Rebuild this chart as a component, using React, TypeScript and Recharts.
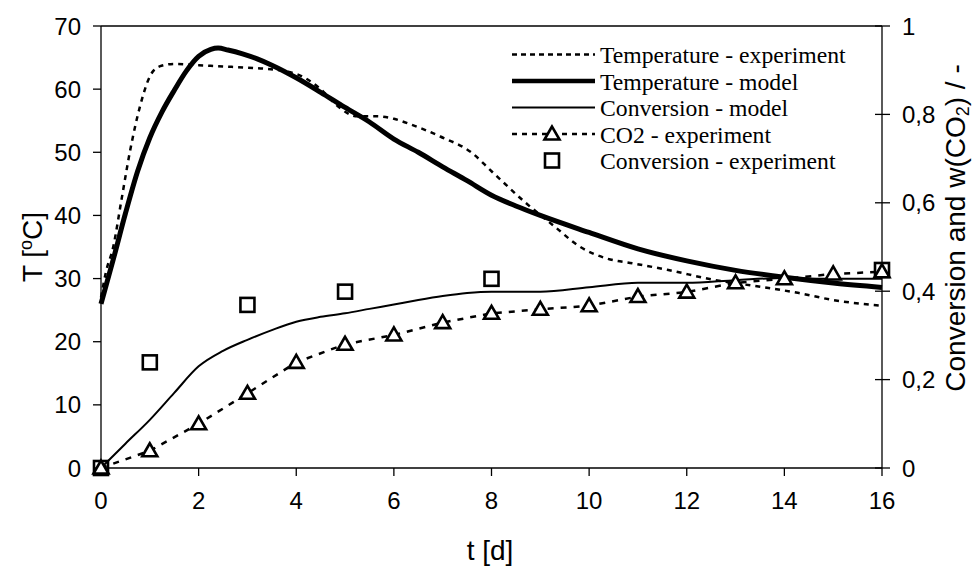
import { ComposedChart, Line, Scatter, XAxis, YAxis, ReferenceLine } from 'recharts';

// temperature model (thick line), t in days, T in °C
const tempModelT = [0, 0.25, 0.5, 0.75, 1, 1.25, 1.5, 1.75, 2, 2.25, 2.4, 2.6, 2.9, 3.2, 3.5, 4, 4.5, 5, 5.5, 6, 6.5, 7, 7.5, 8, 8.5, 9, 10, 11, 12, 13, 14, 15, 16];
const tempModelV = [26, 33, 40.3, 47, 52.3, 56.4, 59.8, 62.9, 65.2, 66.3, 66.5, 66.2, 65.6, 64.8, 63.8, 61.8, 59.5, 57.1, 54.8, 52.1, 50, 47.7, 45.5, 43.2, 41.5, 40, 37.3, 34.7, 32.8, 31.3, 30.2, 29.3, 28.6];

// temperature experiment (dashed)
const tempExpT = [0, 0.1, 0.25, 0.42, 0.6, 0.8, 1, 1.2, 1.5, 2, 2.5, 3, 3.4, 4, 4.5, 4.85, 5.25, 5.65, 6, 6.35, 6.95, 7.6, 8, 8.7, 9.3, 9.8, 10.35, 10.9, 11.6, 12.55, 13.6, 14.3, 15, 16];
const tempExpV = [27, 31, 35, 42.5, 50.4, 57.3, 62, 63.6, 64, 63.8, 63.6, 63.4, 63.2, 62.4, 60, 57.3, 55.7, 55.7, 55.3, 54.4, 52.5, 49.9, 47, 42, 38.2, 35.1, 33.2, 32.4, 31.4, 29.8, 28.6, 27.7, 26.6, 25.7];

// conversion model (thin line)
const convModelT = [0, 0.5, 1, 1.5, 2, 2.5, 3, 3.5, 4, 4.5, 5, 5.5, 6, 6.5, 7, 7.5, 8, 9, 10, 11, 12, 13, 14, 15, 16];
const convModelV = [0, 0.055, 0.109, 0.17, 0.23, 0.265, 0.29, 0.312, 0.331, 0.342, 0.35, 0.36, 0.37, 0.38, 0.389, 0.396, 0.399, 0.399, 0.409, 0.419, 0.419, 0.425, 0.43, 0.428, 0.428];

// CO2 experiment (triangles)
const co2T = [0, 1, 2, 3, 4, 5, 6, 7, 8, 9, 10, 11, 12, 13, 14, 15, 16];
const co2V = [0, 0.039, 0.1, 0.169, 0.239, 0.28, 0.301, 0.329, 0.35, 0.359, 0.367, 0.388, 0.398, 0.419, 0.428, 0.439, 0.444];

// conversion experiment (squares)
const convExpT = [0, 1, 3, 5, 8, 16];
const convExpV = [0, 0.239, 0.369, 0.399, 0.428, 0.448];

const xTicks = [0, 2, 4, 6, 8, 10, 12, 14, 16];
const leftTicks = [0, 10, 20, 30, 40, 50, 60, 70];
const rightTicks = [0, 0.2, 0.4, 0.6, 0.8, 1];

const legendItems = [
  'Temperature - experiment',
  'Temperature - model',
  'Conversion - model',
  'CO2 - experiment',
  'Conversion - experiment',
];

const zip = (ts: number[], vs: number[]) => ts.map((t, i) => ({ t, v: vs[i] }));

const sans = '"Liberation Sans", Arial, sans-serif';
const serif = '"Liberation Serif", "Times New Roman", serif';
const tickStyle = { fontFamily: sans, fontSize: 24, fill: '#000' };

const triPath = (cx: number, cy: number) =>
  `M${cx},${cy - 7.5} L${cx - 7.5},${cy + 5.5} L${cx + 7.5},${cy + 5.5} Z`;

const Triangle = (p: any) => {
  if (p.cx == null || p.cy == null) return <g key={p.index} />;
  return (
    <path key={p.index} d={triPath(p.cx, p.cy)} fill="#fff" stroke="#000" strokeWidth={2.6} />
  );
};

const Square = (p: any) => (
  <rect x={p.cx - 7} y={p.cy - 7} width={14} height={14} fill="none" stroke="#000" strokeWidth={2.6} />
);

const RightTick = (p: any) => {
  const { x, y, payload } = p;
  const ax = x - 20;
  return (
    <g>
      <line x1={ax - 7} x2={ax + 8} y1={y} y2={y} stroke="#000" strokeWidth={1.3} />
      <text x={x} y={y} dy="0.355em" textAnchor="start" {...tickStyle}>
        {String(payload.value).replace('.', ',')}
      </text>
    </g>
  );
};

const LegendBox = () => {
  const rowY = [54.5, 81, 107.5, 134, 160.5];
  return (
    <svg width={980} height={566} style={{ position: 'absolute', left: 0, top: 0, pointerEvents: 'none' }}>
      <line x1={512} x2={595} y1={rowY[0]} y2={rowY[0]} stroke="#000" strokeWidth={2.5} strokeDasharray="5 4" />
      <line x1={512} x2={595} y1={rowY[1]} y2={rowY[1]} stroke="#000" strokeWidth={4.5} />
      <line x1={512} x2={595} y1={rowY[2]} y2={rowY[2]} stroke="#000" strokeWidth={2} />
      <line x1={512} x2={595} y1={rowY[3]} y2={rowY[3]} stroke="#000" strokeWidth={2.5} strokeDasharray="5 5" />
      <path d={triPath(552, rowY[3])} fill="#fff" stroke="#000" strokeWidth={2.6} />
      <rect x={545} y={rowY[4] - 7} width={14} height={14} fill="none" stroke="#000" strokeWidth={2.6} />
      {legendItems.map((label, i) => (
        <text key={label} x={600} y={rowY[i] + 8.5} fontFamily={serif} fontSize={23.7} fill="#000">
          {label}
        </text>
      ))}
    </svg>
  );
};

const titleStyle = {
  position: 'absolute' as const,
  fontFamily: sans,
  fontSize: 28,
  color: '#000',
  whiteSpace: 'nowrap' as const,
  lineHeight: 1,
};

export default function App() {
  return (
    <div style={{ position: 'absolute', left: 0, top: 0, width: 980, height: 566, background: '#fff' }}>
      <ComposedChart width={980} height={566} margin={{ top: 26, right: 0, bottom: 0, left: 0 }}>
        <XAxis
          dataKey="t"
          type="number"
          domain={[0, 16]}
          ticks={xTicks}
          height={98}
          tickSize={8}
          tickMargin={16}
          tick={tickStyle}
          axisLine={{ stroke: '#000', strokeWidth: 1.3 }}
          tickLine={{ stroke: '#000', strokeWidth: 1.3 }}
          allowDuplicatedCategory={false}
        />
        <YAxis
          yAxisId="T"
          type="number"
          domain={[0, 70]}
          ticks={leftTicks}
          width={101}
          tickSize={8}
          tickMargin={12}
          tick={tickStyle}
          axisLine={{ stroke: '#000', strokeWidth: 1.3 }}
          tickLine={{ stroke: '#000', strokeWidth: 1.3 }}
        />
        <YAxis
          yAxisId="X"
          orientation="right"
          type="number"
          domain={[0, 1]}
          ticks={rightTicks}
          width={98}
          tickSize={8}
          tickMargin={12}
          tick={<RightTick />}
          tickLine={false}
          axisLine={{ stroke: '#000', strokeWidth: 1.3 }}
        />
        <ReferenceLine yAxisId="T" y={70} stroke="#000" strokeWidth={1.3} />
        <Line
          yAxisId="T"
          data={zip(tempExpT, tempExpV)}
          dataKey="v"
          type="monotone"
          stroke="#000"
          strokeWidth={2.5}
          strokeDasharray="5 5"
          dot={false}
          isAnimationActive={false}
        />
        <Line
          yAxisId="T"
          data={zip(tempModelT, tempModelV)}
          dataKey="v"
          type="monotone"
          stroke="#000"
          strokeWidth={5}
          dot={false}
          isAnimationActive={false}
        />
        <Line
          yAxisId="X"
          data={zip(convModelT, convModelV)}
          dataKey="v"
          type="monotone"
          stroke="#000"
          strokeWidth={2}
          dot={false}
          isAnimationActive={false}
        />
        <Scatter
          yAxisId="X"
          data={zip(convExpT, convExpV)}
          dataKey="v"
          shape={<Square />}
          isAnimationActive={false}
        />
        <Line
          yAxisId="X"
          data={zip(co2T, co2V)}
          dataKey="v"
          type="linear"
          stroke="#000"
          strokeWidth={2.5}
          strokeDasharray="6 7"
          dot={<Triangle />}
          isAnimationActive={false}
        />
      </ComposedChart>
      <LegendBox />
      <div style={{ ...titleStyle, left: 490, top: 551, transform: 'translate(-50%, -50%)' }}>t [d]</div>
      <div style={{ ...titleStyle, left: 32, top: 247, transform: 'translate(-50%, -50%) rotate(-90deg)' }}>
        T [<sup style={{ fontSize: 18, verticalAlign: '0.55em' }}>o</sup>C]
      </div>
      <div style={{ ...titleStyle, left: 957, top: 228, transform: 'translate(-50%, -50%) rotate(-90deg)' }}>
        Conversion and w(CO<sub style={{ fontSize: 18, verticalAlign: '-0.25em' }}>2</sub>) / -
      </div>
    </div>
  );
}
